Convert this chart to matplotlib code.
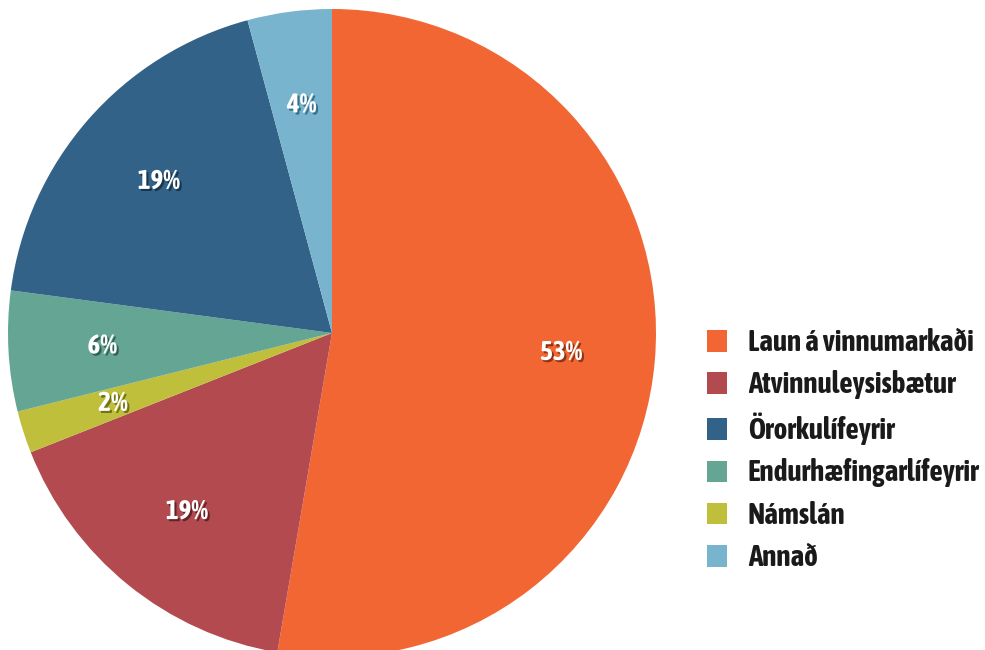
import matplotlib
matplotlib.use("Agg")
import matplotlib.pyplot as plt
import matplotlib.patheffects as pe
from matplotlib import font_manager
import numpy as np

# pick a condensed family with a bold face if the box has one
def _w(f):
    w = f.weight
    if isinstance(w, str):
        w = font_manager.weight_dict.get(w, 400)
    return w

narrow_bold = sorted(set(f.name for f in font_manager.fontManager.ttflist
                         if ('Narrow' in f.name or 'Condensed' in f.name)
                         and _w(f) >= 600))
narrow_any = sorted(set(f.name for f in font_manager.fontManager.ttflist
                        if 'Narrow' in f.name or 'Condensed' in f.name))
if narrow_bold:
    fam = narrow_bold[0]
elif narrow_any:
    fam = narrow_any[0]
else:
    fam = 'Roboto'
plt.rcParams['font.family'] = [fam, 'DejaVu Sans']

# slices in drawing order (clockwise from 12 o'clock)
categories = ["Laun á vinnumarkaði", "Atvinnuleysisbætur", "Námslán",
              "Endurhæfingarlífeyrir", "Örorkulífeyrir", "Annað"]
shares = [52.7, 16.3, 2.1, 6.0, 18.7, 4.2]
pct_labels = ["53%", "19%", "2%", "6%", "19%", "4%"]
colors = ["#F26633", "#B34A4F", "#BFBF3C", "#64A594", "#326287", "#78B4CE"]
shadow_colors = ["#8a2e10", "#5e1f22", "#6b6b10", "#2c5a4e", "#14304a", "#2f6a85"]
# legend order as in the original
legend_order = [0, 1, 4, 3, 2, 5]

W, H = 985, 650
fig = plt.figure(figsize=(W / 100, H / 100), dpi=100)
cx, cy, r = 332, 333, 324
ax = fig.add_axes([(cx - r) / W, (H - cy - r) / H, 2 * r / W, 2 * r / H])

wedges, _ = ax.pie(shares, colors=colors, startangle=90, counterclock=False,
                   wedgeprops=dict(linewidth=0))
ax.set_xlim(-1, 1)
ax.set_ylim(-1, 1)
ax.axis('off')

for w, lab, sc in zip(wedges, pct_labels, shadow_colors):
    ang = np.deg2rad((w.theta1 + w.theta2) / 2)
    d = 0.71
    t = ax.text(d * np.cos(ang), d * np.sin(ang), lab, ha='center', va='center',
                color='white', fontsize=19.5, fontweight='bold')
    t.set_path_effects([pe.withSimplePatchShadow(offset=(1.5, -1.5),
                                                 shadow_rgbFace=sc, alpha=0.9)])


def make_legend(fs, ls):
    leg = fig.legend([wedges[i] for i in legend_order],
                     [categories[i] for i in legend_order],
                     loc='center left', bbox_to_anchor=(707 / W, 1 - 450 / H),
                     frameon=False, fontsize=fs, borderpad=0, borderaxespad=0,
                     handlelength=0.7 * 21 / fs, handleheight=0.75 * 21 / fs,
                     handletextpad=0.7 * 21 / fs, labelspacing=ls)
    for txt in leg.get_texts():
        txt.set_fontweight('bold')
        txt.set_color('#1a1a1a')
    return leg


fs, ls = 21, 0.3
leg = make_legend(fs, ls)
for _ in range(2):
    fig.canvas.draw()
    rend = fig.canvas.get_renderer()
    boxes = [t.get_window_extent(rend) for t in leg.get_texts()]
    maxw = max(b.width for b in boxes)
    pitch = np.mean(np.diff([b.y0 for b in boxes])) * -1
    if maxw > 232:
        fs = fs * 232 / maxw
    ls = ls + (43 - pitch) / (fs * 100 / 72)
    leg.remove()
    leg = make_legend(fs, ls)

fig.savefig("out.png", dpi=100)
